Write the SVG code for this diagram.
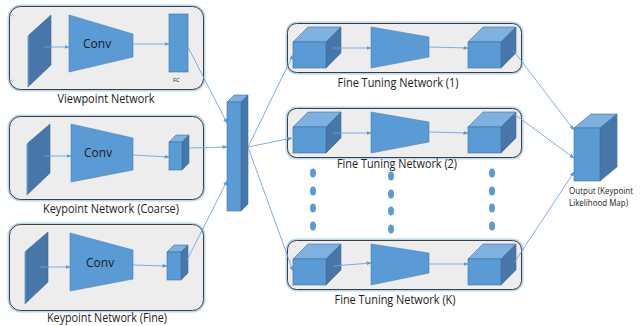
<svg xmlns="http://www.w3.org/2000/svg" width="642" height="326" viewBox="0 0 642 326">
<defs>
<style>
.glow{fill:none;stroke:#A9CDEE;stroke-width:4;opacity:0.8}
.panel{fill:#EDEDED;stroke:#3F3F3F;stroke-width:1}
.front{fill:#5B9BD5;stroke:#41719C;stroke-width:0.6}
.top{fill:#7EB0E0;stroke:#41719C;stroke-width:0.6}
.side{fill:#4677A8;stroke:#41719C;stroke-width:0.6}
.slab{fill:#4677A8;stroke:#3A6794;stroke-width:0.6}
.trap{fill:#5B9BD5;stroke:#4A82B8;stroke-width:0.6}
.lbl{font-family:"Open Sans","Liberation Sans",sans-serif;font-size:12px;fill:#222}
.conv{font-family:"Open Sans","Liberation Sans",sans-serif;font-size:12px;fill:#1a1a1a}
.small{font-family:"Open Sans","Liberation Sans",sans-serif;font-size:6px;fill:#222}
.out{font-family:"Open Sans","Liberation Sans",sans-serif;font-size:9px;fill:#222}
.ln{stroke:#6FA5DA;stroke-width:0.9;fill:none;marker-end:url(#ah)}
.dot{fill:#5B9BD5}
</style>
<marker id="ah" viewBox="0 0 10 10" refX="9" refY="5" markerWidth="5" markerHeight="5" orient="auto" markerUnits="userSpaceOnUse">
<path d="M0,1 L10,5 L0,9 z" fill="#5B9BD5"/>
</marker>
</defs>

<!-- Viewpoint Network -->
<g id="viewpoint-network">
<rect class="glow" x="9.5" y="6.5" width="194" height="83" rx="11"/>
<rect class="panel" x="9.5" y="6.5" width="194" height="83" rx="11"/>
<polygon class="front" points="28,36 30,34 30,85 28,87"/>
<polygon class="slab" points="30,34 51,15 51,65 30,85"/>
<polygon class="trap" points="69,15 133,34 133,57 69,72"/>
<text class="conv" x="83" y="48">Conv</text>
<rect class="front" x="169" y="14" width="19" height="58"/>
<text class="small" x="173" y="82">FC</text>
<text class="lbl" x="106" y="103" text-anchor="middle" textLength="97" lengthAdjust="spacingAndGlyphs">Viewpoint Network</text>
</g>

<!-- Keypoint Network (Coarse) -->
<g id="keypoint-coarse">
<rect class="glow" x="9.5" y="116.5" width="194" height="83" rx="11"/>
<rect class="panel" x="9.5" y="116.5" width="194" height="83" rx="11"/>
<polygon class="front" points="27,144 29,142 29,193 27,195"/>
<polygon class="slab" points="29,142 50,124 50,173 29,193"/>
<polygon class="trap" points="71,124 133,138 133,170 71,182"/>
<text class="conv" x="84" y="157">Conv</text>
<polygon class="top" points="169,142 176,135 189,135 182,142"/>
<polygon class="side" points="182,142 189,135 189,163 182,170"/>
<rect class="front" x="169" y="142" width="13" height="28"/>
<text class="lbl" x="111" y="213" text-anchor="middle" textLength="136" lengthAdjust="spacingAndGlyphs">Keypoint Network (Coarse)</text>
</g>

<!-- Keypoint Network (Fine) -->
<g id="keypoint-fine">
<rect class="glow" x="9.5" y="224.5" width="194" height="86" rx="11"/>
<rect class="panel" x="9.5" y="224.5" width="194" height="86" rx="11"/>
<polygon class="front" points="25,252 27,250 27,302 25,304"/>
<polygon class="slab" points="27,250 48,232 48,282 27,302"/>
<polygon class="trap" points="70,233 133,250 133,279 70,291"/>
<text class="conv" x="86" y="267">Conv</text>
<polygon class="top" points="167,252 174,245 188,245 181,252"/>
<polygon class="side" points="181,252 188,245 188,273 181,280"/>
<rect class="front" x="167" y="252" width="14" height="28"/>
<text class="lbl" x="107" y="322" text-anchor="middle" textLength="120" lengthAdjust="spacingAndGlyphs">Keypoint Network (Fine)</text>
</g>

<!-- Central concatenation bar -->
<g id="concat-bar">
<polygon class="top" points="227,102 234,95 248,95 241,102"/>
<polygon class="side" points="241,102 248,95 248,204 241,211"/>
<rect class="front" x="227" y="102" width="14" height="109"/>
</g>

<!-- Fine Tuning Network (1) -->
<g id="fine-tuning-1">
<rect class="glow" x="287.5" y="23.5" width="234" height="49" rx="9"/>
<rect class="panel" x="287.5" y="23.5" width="234" height="49" rx="9"/>
<polygon class="top" points="293,42 308,27 341,27 326,42"/>
<polygon class="side" points="326,42 341,27 341,53 326,68"/>
<rect class="front" x="293" y="42" width="33" height="26"/>
<polygon class="trap" points="371,27 429,37 429,57 371,68"/>
<polygon class="top" points="468,42 483,27 516,27 501,42"/>
<polygon class="side" points="501,42 516,27 516,53 501,68"/>
<rect class="front" x="468" y="42" width="33" height="26"/>
<text class="lbl" x="398" y="87" text-anchor="middle" textLength="121" lengthAdjust="spacingAndGlyphs">Fine Tuning Network (1)</text>
</g>

<!-- Fine Tuning Network (2) -->
<g id="fine-tuning-2">
<rect class="glow" x="287.5" y="108.5" width="234" height="49" rx="9"/>
<rect class="panel" x="287.5" y="108.5" width="234" height="49" rx="9"/>
<polygon class="top" points="293,127 308,112 341,112 326,127"/>
<polygon class="side" points="326,127 341,112 341,138 326,153"/>
<rect class="front" x="293" y="127" width="33" height="26"/>
<polygon class="trap" points="371,112 429,122 429,142 371,153"/>
<polygon class="top" points="468,127 483,112 516,112 501,127"/>
<polygon class="side" points="501,127 516,112 516,138 501,153"/>
<rect class="front" x="468" y="127" width="33" height="26"/>
<text class="lbl" x="397" y="168" text-anchor="middle" textLength="120" lengthAdjust="spacingAndGlyphs">Fine Tuning Network (2)</text>
</g>

<!-- Ellipsis dots -->
<g id="ellipsis-dots">
<ellipse class="dot" cx="313" cy="173" rx="3" ry="4.5"/>
<ellipse class="dot" cx="313" cy="191" rx="3" ry="4.5"/>
<ellipse class="dot" cx="313" cy="208" rx="3" ry="4.5"/>
<ellipse class="dot" cx="313" cy="226" rx="3" ry="4.5"/>
<ellipse class="dot" cx="391" cy="176" rx="3" ry="4.5"/>
<ellipse class="dot" cx="391" cy="194" rx="3" ry="4.5"/>
<ellipse class="dot" cx="391" cy="211" rx="3" ry="4.5"/>
<ellipse class="dot" cx="391" cy="229" rx="3" ry="4.5"/>
<ellipse class="dot" cx="492" cy="173" rx="3" ry="4.5"/>
<ellipse class="dot" cx="492" cy="191" rx="3" ry="4.5"/>
<ellipse class="dot" cx="492" cy="208" rx="3" ry="4.5"/>
<ellipse class="dot" cx="492" cy="226" rx="3" ry="4.5"/>
</g>

<!-- Fine Tuning Network (K) -->
<g id="fine-tuning-k">
<rect class="glow" x="287.5" y="240.5" width="234" height="49" rx="9"/>
<rect class="panel" x="287.5" y="240.5" width="234" height="49" rx="9"/>
<polygon class="top" points="293,259 308,244 341,244 326,259"/>
<polygon class="side" points="326,259 341,244 341,270 326,285"/>
<rect class="front" x="293" y="259" width="33" height="26"/>
<polygon class="trap" points="371,244 429,253 429,273 371,285"/>
<polygon class="top" points="468,259 483,244 516,244 501,259"/>
<polygon class="side" points="501,259 516,244 516,270 501,285"/>
<rect class="front" x="468" y="259" width="33" height="26"/>
<text class="lbl" x="395" y="304" text-anchor="middle" textLength="121" lengthAdjust="spacingAndGlyphs">Fine Tuning Network (K)</text>
</g>

<!-- Output -->
<g id="output">
<polygon class="top" points="574,128 591,114 617,114 600,128"/>
<polygon class="side" points="600,128 617,114 617,167 600,181"/>
<rect class="front" x="574" y="128" width="26" height="53"/>
<text class="out" x="569" y="194" textLength="64" lengthAdjust="spacingAndGlyphs">Output (Keypoint</text>
<text class="out" x="569" y="206" textLength="59" lengthAdjust="spacingAndGlyphs">Likelihood Map)</text>
</g>

<!-- Connectors -->
<g id="connectors">
<line class="ln" x1="44" y1="47" x2="69" y2="47"/>
<line class="ln" x1="133" y1="44" x2="169" y2="44"/>
<line class="ln" x1="44" y1="156" x2="71" y2="156"/>
<line class="ln" x1="133" y1="155" x2="169" y2="157"/>
<line class="ln" x1="40" y1="267" x2="70" y2="267"/>
<line class="ln" x1="133" y1="265" x2="167" y2="266"/>
<line class="ln" x1="188" y1="47" x2="227" y2="123"/>
<line class="ln" x1="189" y1="148" x2="227" y2="147"/>
<line class="ln" x1="187" y1="260" x2="227" y2="181"/>
<line class="ln" x1="248" y1="147" x2="293" y2="55"/>
<line class="ln" x1="248" y1="147" x2="292" y2="138"/>
<line class="ln" x1="248" y1="147" x2="293" y2="271"/>
<line class="ln" x1="333" y1="48" x2="371" y2="48"/>
<line class="ln" x1="429" y1="47" x2="468" y2="48"/>
<line class="ln" x1="333" y1="133" x2="371" y2="133"/>
<line class="ln" x1="429" y1="132" x2="468" y2="133"/>
<line class="ln" x1="333" y1="266" x2="371" y2="263"/>
<line class="ln" x1="429" y1="264" x2="468" y2="264"/>
<line class="ln" x1="513" y1="50" x2="574" y2="130"/>
<line class="ln" x1="514" y1="114" x2="574" y2="158"/>
<line class="ln" x1="514" y1="263" x2="574" y2="172"/>
</g>
</svg>
